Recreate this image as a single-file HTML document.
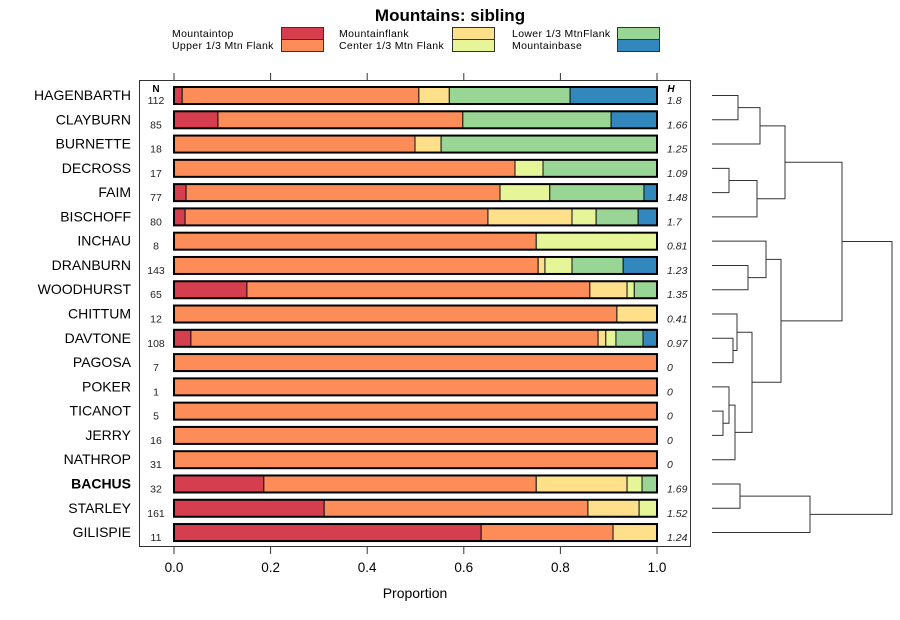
<!DOCTYPE html>
<html><head><meta charset="utf-8"><style>body{margin:0;background:#fff}svg{display:block;font-family:"Liberation Sans",sans-serif}</style></head>
<body>
<svg id="chart" width="900" height="620" viewBox="0 0 900 620">
<text x="450" y="21" text-anchor="middle" font-size="17" font-weight="bold">Mountains: sibling</text>
<g id="legend" font-size="10"></g>
<rect x="139.5" y="80.5" width="551" height="466" fill="none" stroke="#333"/>
<g id="bars"></g><g id="axes"></g><g id="dendro" stroke="#333" fill="none" stroke-width="1"></g>
<text x="415" y="598" text-anchor="middle" font-size="14">Proportion</text>
</svg>
<script>
const categories=["HAGENBARTH","CLAYBURN","BURNETTE","DECROSS","FAIM","BISCHOFF","INCHAU","DRANBURN","WOODHURST","CHITTUM","DAVTONE","PAGOSA","POKER","TICANOT","JERRY","NATHROP","BACHUS","STARLEY","GILISPIE"];
const nValues=[112,85,18,17,77,80,8,143,65,12,108,7,1,5,16,31,32,161,11];
const hValues=["1.8","1.66","1.25","1.09","1.48","1.7","0.81","1.23","1.35","0.41","0.97","0","0","0","0","0","1.69","1.52","1.24"];
const seriesNames=["Mountaintop","Upper 1/3 Mtn Flank","Mountainflank","Center 1/3 Mtn Flank","Lower 1/3 MtnFlank","Mountainbase"];
const mountaintop=[0.017,0.091,0,0,0.025,0.023,0,0,0.151,0,0.035,0,0,0,0,0,0.186,0.311,0.636];
const upperFlank=[0.49,0.507,0.499,0.706,0.65,0.627,0.75,0.754,0.71,0.917,0.843,1,1,1,1,1,0.564,0.546,0.273];
const mountainflank=[0.063,0,0.054,0,0,0.174,0,0.014,0.077,0.083,0.016,0,0,0,0,0,0.188,0.106,0.091];
const centerFlank=[0,0,0,0.058,0.103,0.05,0.25,0.056,0.015,0,0.021,0,0,0,0,0,0.031,0.037,0];
const lowerFlank=[0.25,0.307,0.447,0.236,0.195,0.087,0,0.106,0.047,0,0.056,0,0,0,0,0,0.031,0,0];
const mountainbase=[0.18,0.095,0,0,0.027,0.039,0,0.07,0,0,0.029,0,0,0,0,0,0,0,0];
const xTicks=[0,0.2,0.4,0.6,0.8,1.0];
const xTickLabels=["0.0","0.2","0.4","0.6","0.8","1.0"];
const colors=["#D53E4F","#FC8D59","#FEE08B","#E6F598","#99D594","#3288BD"];
const series=[mountaintop,upperFlank,mountainflank,centerFlank,lowerFlank,mountainbase];
const NS="http://www.w3.org/2000/svg";
const X=v=>174+v*483;
const Y=i=>95+i*24.28;
function mk(tag,attrs,parent,txt){const e=document.createElementNS(NS,tag);for(const k in attrs)e.setAttribute(k,attrs[k]);if(txt!=null)e.textContent=txt;parent.appendChild(e);return e;}
const bars=document.getElementById('bars'),axes=document.getElementById('axes'),lg=document.getElementById('legend'),dg=document.getElementById('dendro');
const lpos=[[172,281],[172,281],[339,452],[339,452],[512,617],[512,617]];
seriesNames.forEach((s,k)=>{const y=k%2?45.5:33.5;const[tx,sx]=lpos[k];
 const t=mk('text',{x:tx,y:y+3.5,'font-size':10.5,'letter-spacing':'0.35'},lg,s);
 
 
 const r=mk('rect',{x:sx+0.5,y:y-6,width:42,height:12,fill:colors[k],stroke:'#333','stroke-width':1},lg);
 
 });
categories.forEach((c,i)=>{const y=Y(i);
 const lab=mk('text',{x:131,y:y+5,'text-anchor':'end','font-size':14,'font-weight':c==='BACHUS'?'bold':'normal'},axes,c);
 
 
 const n=mk('text',{x:156,y:y+9,'text-anchor':'middle','font-size':10.5,fill:'#222'},axes,String(nValues[i]));
 
 
 const h=mk('text',{x:667,y:y+9,'font-size':10.5,'font-style':'italic',fill:'#222'},axes,hValues[i]);
 
 
 let cum=0;
 series.forEach((arr,k)=>{const v=arr[i];if(v<=0)return;
  const r=mk('rect',{x:X(cum),y:y-8,width:X(cum+v)-X(cum),height:17,fill:colors[k],stroke:'#111','stroke-width':1},bars);
  
  
  cum+=v;});
 const o=mk('rect',{x:X(0),y:y-8,width:X(cum)-X(0),height:17,fill:'none',stroke:'#000','stroke-width':2},bars);
 
 
});
mk('text',{x:156,y:92,'text-anchor':'middle','font-size':10,'font-weight':'bold'},axes,'N');
mk('text',{x:671,y:92,'text-anchor':'middle','font-size':10,'font-weight':'bold','font-style':'italic'},axes,'H');
xTicks.forEach((t,k)=>{const x=X(t);
 mk('line',{x1:x,x2:x,y1:73,y2:80,stroke:'#333'},axes);
 mk('line',{x1:x,x2:x,y1:547,y2:554,stroke:'#333'},axes);
 const l=mk('text',{x:x,y:572,'text-anchor':'middle','font-size':13.5},axes,xTickLabels[k]);
 
 });
const merges=[[0,1,738],[-1,2,760],[3,4,729],[-3,5,757],[-2,-4,785],[7,8,748],[6,-6,766],[10,11,733],[9,-8,737],[13,14,723],[12,-10,729],[-11,15,735],[-9,-12,752],[-7,-13,781],[-5,-14,842],[16,17,740],[-16,18,810],[-15,-17,892]];
const nodes=[];
function pos(id){return id>=0?{x:712,y:Y(id)}:nodes[-id-1];}
merges.forEach(m=>{const a=pos(m[0]),b=pos(m[1]),h=m[2];
 const p=mk('path',{d:`M${a.x},${a.y+.5}H${h}V${b.y+.5}H${b.x}`},dg);
 
 
 nodes.push({x:h,y:(a.y+b.y)/2});});
</script>
</body></html>
